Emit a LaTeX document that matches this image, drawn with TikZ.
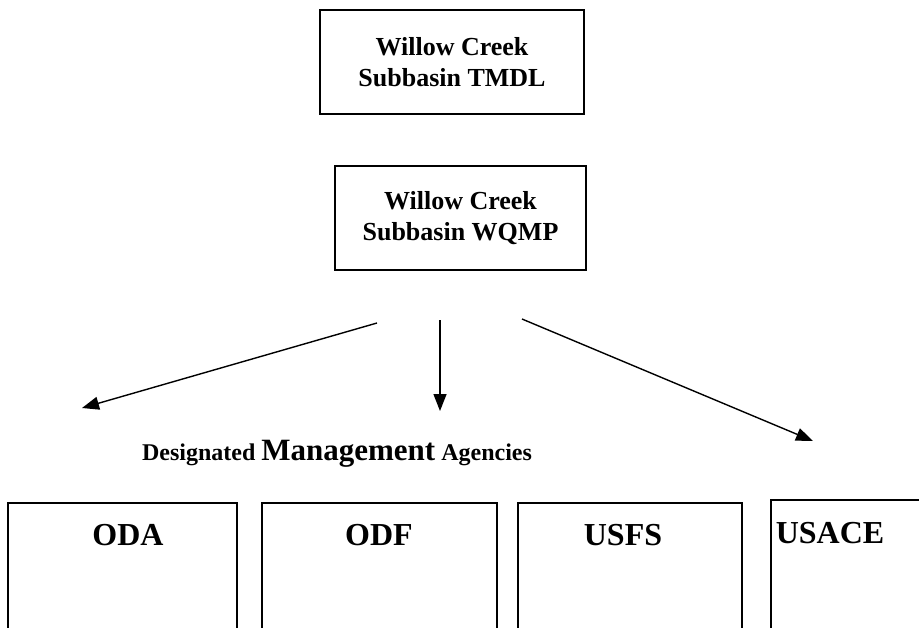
\documentclass[tikz,border=0pt]{standalone}
\usepackage{fontspec}
\setmainfont{Liberation Serif}
\usetikzlibrary{arrows.meta}
\begin{document}
\begin{tikzpicture}[x=1pt,y=-1pt,
  planbox/.style={draw=black, line width=1.8pt, rectangle, inner sep=0pt,
    align=center, font=\fontsize{26}{31}\selectfont\bfseries},
  agencybox/.style={draw=black, line width=1.8pt, rectangle, inner sep=0pt,
    anchor=north, minimum height=180pt},
  agencytext/.style={anchor=base, inner sep=0pt, font=\fontsize{32}{34}\selectfont\bfseries},
  flow/.style={line width=1.4pt, -{Triangle[length=17pt,width=13pt]}}
]
\clip (0,0) rectangle (919,627);
\fill[white] (0,0) rectangle (919,627);

% top boxes
\node[planbox, minimum width=264pt, minimum height=104pt] (tmdl) at (452,62)
  {Willow Creek\\Subbasin TMDL};
\node[planbox, minimum width=251pt, minimum height=104pt] (wqmp) at (460.5,218)
  {Willow Creek\\Subbasin WQMP};

% arrow end points
\coordinate (lt) at (377,323);
\coordinate (lh) at (82,408);
\coordinate (mt) at (440,320);
\coordinate (mh) at (440,411);
\coordinate (rt) at (522,319);
\coordinate (rh) at (813,441);
\draw[flow] (lt) -- (lh);
\draw[flow] (mt) -- (mh);
\draw[flow] (rt) -- (rh);

% caption
\node[anchor=base, inner sep=0pt, font=\bfseries] (dma) at (337,460)
  {\fontsize{24}{26}\selectfont Designated \fontsize{31}{34}\selectfont Management\fontsize{24}{26}\selectfont{} Agencies};

% agency boxes (open at the bottom edge of the page)
\node[agencybox, minimum width=229pt] (oda) at (122.5,502) {};
\node[agencybox, minimum width=235pt] (odf) at (379.5,502) {};
\node[agencybox, minimum width=224pt] (usfs) at (630,502) {};
\node[agencybox, minimum width=180pt] (usace) at (861,499) {};

\node[agencytext] (odat) at (128,545) {ODA};
\node[agencytext] (odft) at (379,545) {ODF};
\node[agencytext] (usfst) at (623,545) {USFS};
\node[agencytext] (usacet) at (830,543) {USACE};
\end{tikzpicture}
\end{document}
